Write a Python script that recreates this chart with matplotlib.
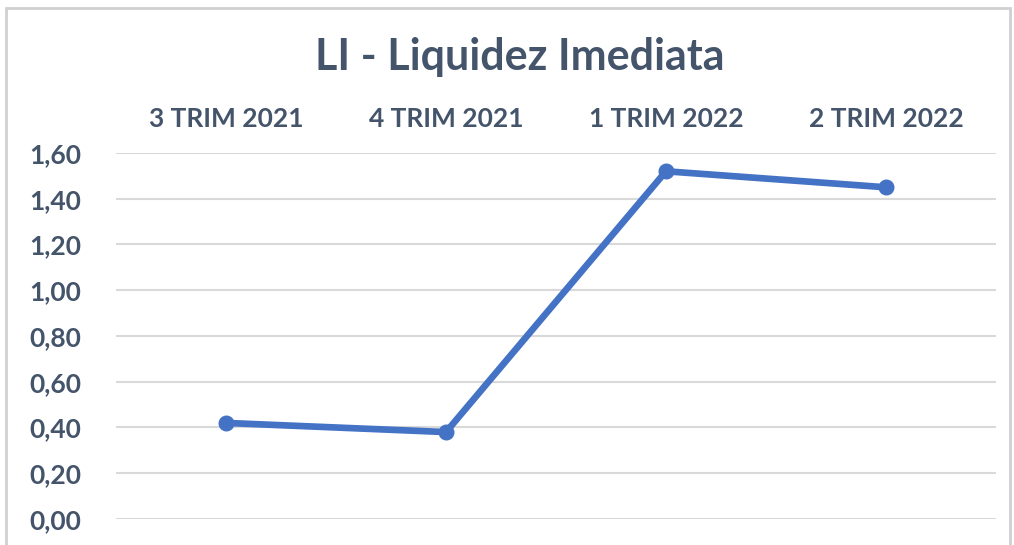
import matplotlib
matplotlib.use("Agg")
import matplotlib.pyplot as plt
from matplotlib.patches import Rectangle
from matplotlib.ticker import FuncFormatter

categories = ["3 TRIM 2021", "4 TRIM 2021", "1 TRIM 2022", "2 TRIM 2022"]
values = [0.42, 0.38, 1.52, 1.45]
yticks = [0.0, 0.2, 0.4, 0.6, 0.8, 1.0, 1.2, 1.4, 1.6]

text_color = "#44546A"
line_color = "#4472C4"
grid_color = "#D9D9D9"

plt.rcParams["font.family"] = ["Lato", "DejaVu Sans"]

fig = plt.figure(figsize=(10.14, 5.45), dpi=100)
fig.patches.append(Rectangle((0.006, -0.1), 0.99, 1.085, transform=fig.transFigure,
                             fill=False, edgecolor="#D0D0D0", linewidth=2))

ax = fig.add_axes([0.1144, 0.0477, 0.8678, 0.6716])
x = range(len(categories))
ax.plot(x, values, color=line_color, linewidth=4.8, marker="o", markersize=10.5,
        solid_capstyle="round", zorder=3)

ax.set_xlim(-0.5, len(categories) - 0.5)
ax.set_ylim(0, 1.6)
ax.set_yticks(yticks)
ax.yaxis.set_major_formatter(FuncFormatter(lambda v, p: f"{v:.2f}".replace(".", ",")))
ax.set_xticks(list(x))
ax.set_xticklabels(categories)
ax.xaxis.tick_top()
ax.tick_params(axis="x", length=0, pad=15.5, labelsize=19, labelcolor=text_color)
ax.tick_params(axis="y", length=0, pad=25, labelsize=19, labelcolor=text_color)
for lbl in ax.get_xticklabels() + ax.get_yticklabels():
    lbl.set_fontweight("bold")

ax.grid(axis="y", color=grid_color, linewidth=1.5)
ax.set_axisbelow(True)
for s in ax.spines.values():
    s.set_visible(False)

fig.text(0.5125, 0.895, "LI - Liquidez Imediata", ha="center", va="center",
         fontsize=31, fontweight="bold", color=text_color)

fig.savefig("out.png", dpi=100)
